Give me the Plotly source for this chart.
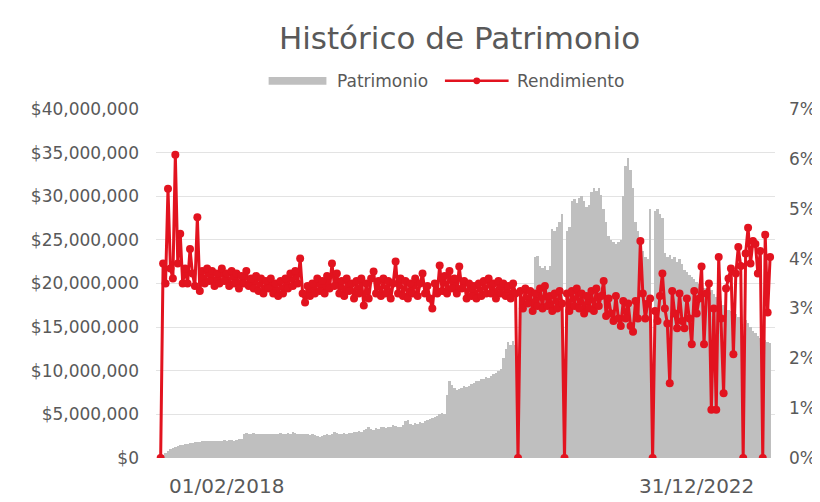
import plotly.graph_objects as go

# Patrimonio in millions of pesos (one value per period)
patrimonio_m = [
    0.2, 0.4, 0.6, 0.8, 1.0, 1.2, 1.3, 1.4, 1.5, 1.5,
    1.6, 1.6, 1.7, 1.7, 1.8, 1.8, 1.8, 1.9, 1.9, 1.9,
    1.9, 2.0, 2.0, 1.9, 2.0, 2.0, 2.1, 2.0, 2.1, 2.1,
    2.0, 2.1, 2.2, 2.2, 2.8, 2.9, 2.8, 2.8, 2.9, 2.8,
    2.7, 2.8, 2.8, 2.7, 2.7, 2.8, 2.8, 2.7, 2.8, 2.9,
    2.8, 2.8, 2.9, 2.8, 3.0, 2.9, 2.8, 2.8, 2.7, 2.8,
    2.7, 2.6, 2.7, 2.6, 2.5, 2.4, 2.5, 2.6, 2.7, 2.6,
    2.7, 3.0, 2.9, 2.8, 2.8, 2.9, 2.8, 2.9, 2.9, 3.0,
    3.0, 3.1, 3.0, 3.2, 3.3, 3.5, 3.3, 3.2, 3.4, 3.3,
    3.5, 3.6, 3.4, 3.5, 3.6, 3.8, 3.7, 3.5, 3.6, 3.8,
    4.2, 4.4, 3.9, 3.8, 4.0, 3.9, 4.1, 4.0, 4.2, 4.3,
    4.5, 4.6, 4.7, 4.8, 5.0, 5.2, 5.0, 7.2, 8.8, 8.4,
    8.0, 7.8, 7.9, 8.0, 8.2, 8.1, 8.3, 8.5, 8.6, 8.8,
    8.8, 9.0, 9.1, 9.3, 9.2, 9.4, 9.6, 9.8, 10.0, 10.2,
    11.5, 12.5, 13.3, 13.0, 13.4, 13.0, 0.0, 17.5, 17.8, 18.0,
    17.8, 18.2, 18.5, 23.0, 23.2, 22.0, 21.8, 22.0, 21.5, 22.0,
    26.3, 26.0, 26.5, 27.0, 28.0, 0.0, 26.0, 26.5, 29.5, 29.7,
    29.2, 29.8, 30.0, 29.5, 28.8, 29.0, 30.5, 31.0, 30.6, 31.0,
    30.2, 28.5, 27.0, 25.5, 25.0, 24.8, 24.5, 24.8, 25.0, 30.0,
    33.5, 34.4, 33.0, 31.0, 27.0, 26.0, 25.0, 23.7, 23.0, 22.8,
    28.5, 0.0, 28.3, 28.5, 28.0, 27.5, 23.5, 23.0, 23.3, 22.8,
    23.0, 22.5, 22.8, 22.2, 21.5, 21.3, 21.0, 20.8, 20.5, 20.2,
    20.0, 19.8, 19.5, 19.5, 19.0, 19.2, 18.8, 18.5, 18.5, 18.0,
    17.5, 17.2, 17.0, 16.8, 16.5, 16.5, 16.2, 16.0, 0.0, 15.8,
    15.5, 15.0, 14.6, 14.3, 14.0, 13.8, 0.0, 13.5, 13.3, 13.2,
]

# Rendimiento in percent
rendimiento_pct = [
    0.0, 3.9, 3.5, 5.4, 3.8, 3.6, 6.08, 3.9, 4.5, 3.5,
    3.8, 3.5, 4.19, 3.7, 3.45, 4.83, 3.35, 3.75, 3.5, 3.8,
    3.55, 3.75, 3.45, 3.7, 3.5, 3.8, 3.55, 3.7, 3.45, 3.75,
    3.5, 3.7, 3.4, 3.65, 3.5, 3.75, 3.45, 3.6, 3.4, 3.65,
    3.35, 3.6, 3.3, 3.55, 3.4, 3.6, 3.3, 3.5, 3.25, 3.55,
    3.3, 3.6, 3.4, 3.7, 3.45, 3.75, 3.5, 4.0, 3.3, 3.12,
    3.45, 3.25, 3.5, 3.3, 3.6, 3.35, 3.55, 3.3, 3.65, 3.4,
    3.9, 3.45, 3.7, 3.3, 3.55, 3.25, 3.6, 3.35, 3.5, 3.2,
    3.55, 3.3, 3.6, 3.06, 3.5, 3.2, 3.6, 3.74, 3.3, 3.55,
    3.25, 3.6, 3.3, 3.55, 3.2, 3.5, 3.94, 3.3, 3.6, 3.25,
    3.55, 3.2, 3.5, 3.3, 3.6, 3.25, 3.5, 3.7, 3.3, 3.45,
    3.2, 3.0, 3.5, 3.3, 3.86, 3.35, 3.65, 3.3, 3.75, 3.4,
    3.6, 3.3, 3.84, 3.4, 3.55, 3.2, 3.5, 3.25, 3.45, 3.2,
    3.5, 3.25, 3.55, 3.3, 3.6, 3.3, 3.5, 3.2, 3.55, 3.3,
    3.5, 3.25, 3.45, 3.2, 3.5, 3.3, 0.0, 3.35, 3.0, 3.4,
    3.1, 3.35, 2.95, 3.3, 3.05, 3.4, 3.0, 3.45, 3.05, 3.25,
    2.95, 3.3, 3.0, 3.35, 3.1, 0.0, 3.3, 2.95, 3.35, 3.05,
    3.4, 3.0, 3.3, 2.9, 3.25, 3.0, 3.35, 2.95, 3.4, 3.05,
    3.25, 3.55, 2.85, 3.2, 2.9, 2.75, 3.25, 2.8, 2.65, 3.15,
    2.8, 3.1, 2.65, 2.53, 3.15, 2.8, 4.35, 3.3, 2.8, 3.1,
    3.2, 0.0, 2.95, 2.75, 3.25, 3.7, 3.0, 2.7, 1.5, 3.35,
    2.9, 2.6, 3.3, 2.75, 2.6, 3.2, 2.8, 2.28, 3.35, 2.9,
    3.2, 3.84, 2.28, 3.3, 3.5, 0.97, 3.0, 0.97, 4.03, 2.8,
    1.3, 3.4, 3.6, 3.8, 2.08, 3.7, 4.23, 3.85, 0.0, 4.1,
    4.62, 3.9, 4.35, 4.29, 3.7, 4.15, 0.0, 4.48, 2.92, 4.03,
]

tick_labels = ["01/02/2018", "31/12/2022"]
tick_index = [27, 219]

periods = list(range(len(patrimonio_m)))
patrimonio = [v * 1e6 for v in patrimonio_m]

GRAY = "#BFBFBF"
RED = "#E2131F"
TXT = "#595959"
FONT = "DejaVu Sans"

fig = go.Figure()
fig.add_trace(go.Bar(
    x=periods, y=patrimonio, name="Patrimonio",
    marker=dict(color=GRAY, line=dict(width=0)),
    width=1.0, yaxis="y",
))
fig.add_trace(go.Scatter(
    x=periods, y=rendimiento_pct, name="Rendimiento", mode="lines+markers",
    line=dict(color=RED, width=3),
    marker=dict(color=RED, size=8),
    yaxis="y2",
))

L, R, T, B = 148, 40, 101, 42
W, H = 820, 502
pw, ph = W - L - R, H - T - B

def px(x):
    return (x - L) / pw

def py(y):
    return (H - B - y) / ph

ly = 72
shapes = [
    dict(type="rect", xref="paper", yref="paper", x0=px(263), x1=px(322), y0=py(76), y1=py(68),
         fillcolor=GRAY, line=dict(width=0)),
    dict(type="line", xref="paper", yref="paper", x0=px(443), x1=px(508), y0=py(ly), y1=py(ly),
         line=dict(color=RED, width=2.5)),
    dict(type="circle", xref="paper", yref="paper", x0=px(472), x1=px(479), y0=py(ly + 3.5), y1=py(ly - 3.5),
         fillcolor=RED, line=dict(width=0)),
]
annotations = [
    dict(text="Patrimonio", xref="paper", yref="paper", x=px(331), y=py(ly), xanchor="left", yanchor="middle",
         showarrow=False, font=dict(size=17, color=TXT, family=FONT)),
    dict(text="Rendimiento", xref="paper", yref="paper", x=px(515), y=py(ly), xanchor="left", yanchor="middle",
         showarrow=False, font=dict(size=17, color=TXT, family=FONT)),
]

fig.update_layout(
    width=W, height=H,
    margin=dict(l=L, r=R, t=T, b=B),
    paper_bgcolor="white", plot_bgcolor="white",
    showlegend=False,
    bargap=0,
    title=dict(text="Histórico de Patrimonio", x=451.5 / W, xref="container", xanchor="center",
               y=1 - 30 / H, yref="container", yanchor="middle",
               font=dict(size=31, color=TXT, family=FONT)),
    font=dict(family=FONT, color=TXT),
    shapes=shapes,
    annotations=annotations,
    xaxis=dict(range=[-1.9, 251], showgrid=False, zeroline=False, showline=False,
               tickmode="array", tickvals=tick_index, ticktext=tick_labels, ticks="",
               tickfont=dict(size=20, color=TXT, family=FONT), ticklabelstandoff=14),
    yaxis=dict(range=[0, 40e6], dtick=5e6, tickformat=",.0f", tickprefix="$",
               showgrid=True, gridcolor="#E3E3E3", gridwidth=1, zeroline=False, showline=False,
               tickfont=dict(size=17, color=TXT, family=FONT), ticks="", ticklabelstandoff=16),
    yaxis2=dict(range=[0, 7], dtick=1, ticksuffix="%", overlaying="y", side="right",
                showgrid=False, zeroline=False, showline=False,
                tickfont=dict(size=17, color=TXT, family=FONT), ticks="", ticklabelstandoff=13),
)

fig.write_html("out.html")
